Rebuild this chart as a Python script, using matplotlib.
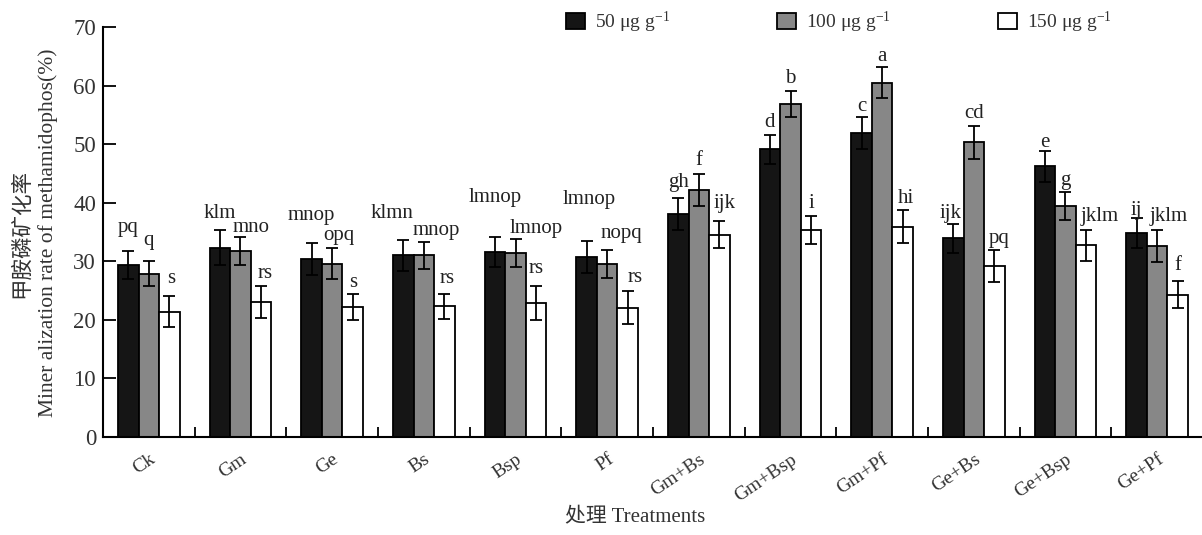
import matplotlib
matplotlib.use('Agg')
import matplotlib.pyplot as plt
import numpy as np

plt.rcParams['font.family'] = ['Liberation Serif', 'Noto Sans CJK SC']
plt.rcParams['mathtext.fontset'] = 'custom'
plt.rcParams['mathtext.rm'] = 'Liberation Serif'
plt.rcParams['mathtext.it'] = 'Liberation Serif:italic'

# treatments
groups = ['Ck', 'Gm', 'Ge', 'Bs', 'Bsp', 'Pf', 'Gm+Bs', 'Gm+Bsp', 'Gm+Pf', 'Ge+Bs', 'Ge+Bsp', 'Ge+Pf']
series = [r'50 μg g$^{-1}$', r'100 μg g$^{-1}$', r'150 μg g$^{-1}$']

# mineralization rate (%) and error
r50 = [29.3, 32.3, 30.4, 31.0, 31.6, 30.7, 38.1, 49.1, 51.9, 33.9, 46.2, 34.8]
e50 = [2.4, 3.0, 2.8, 2.7, 2.5, 2.7, 2.7, 2.5, 2.8, 2.4, 2.6, 2.6]
r100 = [27.9, 31.7, 29.6, 31.0, 31.4, 29.6, 42.2, 56.8, 60.5, 50.3, 39.4, 32.6]
e100 = [2.2, 2.4, 2.6, 2.3, 2.4, 2.4, 2.7, 2.2, 2.6, 2.8, 2.4, 2.8]
r150 = [21.4, 23.0, 22.2, 22.3, 22.8, 22.1, 34.5, 35.4, 35.9, 29.2, 32.7, 24.3]
e150 = [2.6, 2.7, 2.2, 2.1, 2.9, 2.8, 2.3, 2.4, 2.8, 2.8, 2.7, 2.3]

# significance letters
let50 = ['pq', 'klm', 'mnop', 'klmn', 'lmnop', 'lmnop', 'gh', 'd', 'c', 'ijk', 'e', 'ij']
let100 = ['q', 'mno', 'opq', 'mnop', 'lmnop', 'nopq', 'f', 'b', 'a', 'cd', 'g', 'jklm']
let150 = ['s', 'rs', 's', 'rs', 'rs', 'rs', 'ijk', 'i', 'hi', 'pq', 'jklm', 'f']

# where the letters sit (layout only)
ly50 = [35.8, 38.2, 37.8, 38.2, 40.9, 40.5, 43.5, 53.7, 56.4, 38.2, 50.3, 38.7]
ly100 = [33.6, 35.8, 34.4, 35.3, 35.6, 34.7, 47.2, 61.2, 64.9, 55.2, 43.8, 37.7]
ly150 = [27.1, 27.9, 26.4, 27.1, 28.8, 27.3, 39.8, 39.8, 40.7, 33.9, 37.7, 29.3]
dx50 = [0, 0, 0, -0.12, 0, 0.03, 0, 0, 0, -0.03, 0, 0]
dx100 = [0, 0.12, 0.07, 0.14, 0.23, 0.15, 0, 0, 0, 0, 0, 0.13]
dx150 = [0.02, 0.04, 0, 0.03, 0, 0.08, 0.06, 0, 0.03, 0.05, 0.15, 0]

fig = plt.figure(figsize=(12.02, 5.35), dpi=100)
ax = fig.add_axes([103 / 1202, 1 - 437 / 535, 1100 / 1202, 410 / 535])

x = np.arange(len(groups))
w = 0.224
colors = ['#151515', '#878787', 'white']
vals = [r50, r100, r150]
errs = [e50, e100, e150]
lets = [let50, let100, let150]
lys = [ly50, ly100, ly150]
dxs = [dx50, dx100, dx150]

for k in range(3):
    xs = x + (k - 1) * w
    ax.bar(xs, vals[k], w, color=colors[k], edgecolor='black', linewidth=1.3,
           label=series[k], zorder=2)
    ax.errorbar(xs, vals[k], yerr=errs[k], fmt='none', ecolor='black',
                elinewidth=1.3, capsize=4, capthick=1.3, zorder=3)
    for i in range(len(groups)):
        ax.text(xs[i] + dxs[k][i], lys[k][i], lets[k][i], ha='center', va='center',
                fontsize=15, color='#222222')

ax.set_xlim(-0.5, 11.5)
ax.set_ylim(0, 70)
ax.set_yticks(range(0, 71, 10))
ax.set_xticks(x)
ax.set_xticklabels(groups, rotation=34, ha='right', va='top', rotation_mode='anchor')
ax.set_xticks(np.arange(0.5, 12, 1), minor=True)
ax.tick_params(axis='x', which='major', length=0, pad=10, labelsize=14, labelcolor='#333333')
ax.tick_params(axis='x', which='minor', direction='in', length=7, width=1.3)
ax.tick_params(axis='y', direction='in', length=9, width=1.3, labelsize=16.5,
               labelcolor='#333333', pad=5)
for s in ['top', 'right']:
    ax.spines[s].set_visible(False)
for s in ['left', 'bottom']:
    ax.spines[s].set_linewidth(1.5)

fig.text(35 / 1202, 1 - 233 / 535, '甲胺磷矿化率\nMiner alization rate of methamidophos(%)',
         rotation=90, ha='center', va='center', multialignment='center',
         fontsize=15.5, color='#333333', linespacing=1.4)
fig.text(635 / 1202, 1 - 518 / 535, '处理 Treatments', ha='center', va='center',
         fontsize=15, color='#333333')

leg = ax.legend(ncol=3, loc='center', bbox_to_anchor=(0.669, 1.012),
                frameon=False, fontsize=14, handlelength=1.0, handleheight=0.9,
                handletextpad=0.5, columnspacing=5.5)
for t in leg.get_texts():
    t.set_color('#333333')

fig.savefig('out.png', dpi=100)
